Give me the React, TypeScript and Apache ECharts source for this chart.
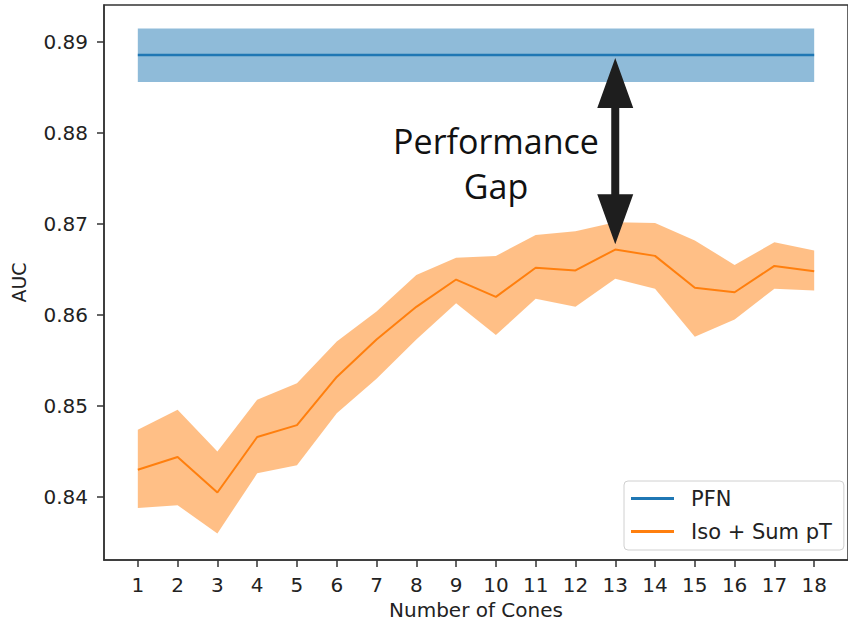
import React, { useEffect, useRef } from "react";
import * as echarts from "echarts";

const cones = [1, 2, 3, 4, 5, 6, 7, 8, 9, 10, 11, 12, 13, 14, 15, 16, 17, 18];
const isoMean = [0.843, 0.8444, 0.8405, 0.8466, 0.8479, 0.8532, 0.8573, 0.8609, 0.8639, 0.862, 0.8652, 0.8649, 0.8672, 0.8665, 0.863, 0.8625, 0.8654, 0.8648];
const isoUpper = [0.8474, 0.8496, 0.845, 0.8507, 0.8525, 0.8571, 0.8604, 0.8644, 0.8663, 0.8665, 0.8688, 0.8692, 0.8702, 0.8701, 0.8682, 0.8655, 0.868, 0.8671];
const isoLower = [0.8388, 0.8391, 0.836, 0.8426, 0.8435, 0.8492, 0.853, 0.8573, 0.8613, 0.8578, 0.8618, 0.8609, 0.864, 0.8629, 0.8576, 0.8595, 0.8629, 0.8627];
const pfnMean = 0.88857;
const pfnUpper = 0.8915;
const pfnLower = 0.8856;
const yTicks = [0.84, 0.85, 0.86, 0.87, 0.88, 0.89];
const gapX = 13;
const gapTop = 0.88824;
const gapBottom = 0.86777;

const BLUE = "#1f77b4";
const ORANGE = "#ff7f0e";
const TXT = "#222";
const FONT = "DejaVu Sans";

function bandSeries(name: string, upper: number[], lower: number[], fill: string, z: number) {
  return {
    name,
    type: "custom",
    z,
    silent: true,
    data: [[cones[0], lower[0]]],
    renderItem: (params: any, api: any) => {
      const pts: number[][] = [];
      for (let i = 0; i < cones.length; i++) pts.push(api.coord([cones[i], upper[i]]));
      for (let i = cones.length - 1; i >= 0; i--) pts.push(api.coord([cones[i], lower[i]]));
      return { type: "polygon", shape: { points: pts }, style: { fill } };
    },
  };
}

export default function App() {
  const ref = useRef<HTMLDivElement>(null);
  useEffect(() => {
    if (!ref.current) return;
    const chart = echarts.init(ref.current, null, { renderer: "svg" });
    const pfnArr = cones.map(() => pfnMean);
    const pfnUp = cones.map(() => pfnUpper);
    const pfnLo = cones.map(() => pfnLower);
    chart.setOption({
      animation: false,
      backgroundColor: "#fff",
      grid: {
        left: 104,
        top: 5,
        width: 744,
        height: 555,
        show: true,
        borderColor: "#333",
        borderWidth: 1.5,
        backgroundColor: "transparent",
        outerBoundsMode: "none",
        containLabel: false,
      },
      xAxis: {
        type: "value",
        min: 0.15,
        max: 18.85,
        name: "Number of Cones",
        nameLocation: "middle",
        nameGap: 39,
        nameTextStyle: { fontFamily: FONT, fontSize: 20, color: TXT },
        axisLine: { show: true, lineStyle: { color: "#333", width: 1.5 } },
        axisTick: { show: true, length: 7, lineStyle: { color: "#333", width: 1.5 }, customValues: cones },
        axisLabel: { customValues: cones, fontFamily: FONT, fontSize: 20, color: TXT, margin: 15 },
        splitLine: { show: false },
      },
      yAxis: {
        type: "value",
        min: 0.83308,
        max: 0.89407,
        name: "AUC",
        nameLocation: "middle",
        nameGap: 76,
        nameTextStyle: { fontFamily: FONT, fontSize: 19, color: TXT },
        axisLine: { show: true, lineStyle: { color: "#333", width: 1.5 } },
        axisTick: { show: true, length: 7, lineStyle: { color: "#333", width: 1.5 }, customValues: yTicks },
        axisLabel: {
          customValues: yTicks,
          fontFamily: FONT,
          fontSize: 20,
          color: TXT,
          margin: 16,
          formatter: (v: number) => v.toFixed(2),
        },
        splitLine: { show: false },
      },
      legend: {
        data: [
          { name: "PFN", icon: "rect" },
          { name: "Iso + Sum pT", icon: "rect" },
        ],
        orient: "vertical",
        left: 624,
        top: 481,
        itemWidth: 43,
        itemHeight: 3,
        itemGap: 12,
        padding: [7, 12, 8, 7],
        backgroundColor: "rgba(255,255,255,0.85)",
        borderColor: "#d0d0d0",
        borderWidth: 1,
        borderRadius: 4,
        textStyle: { fontFamily: FONT, fontSize: 21, color: TXT, padding: [0, 0, 0, 12] },
      },
      series: [
        bandSeries("PFN band", pfnUp, pfnLo, "rgba(31,119,180,0.5)", 1),
        {
          name: "PFN",
          type: "line",
          z: 2,
          data: cones.map((c, i) => [c, pfnArr[i]]),
          showSymbol: false,
          symbol: "none",
          lineStyle: { color: BLUE, width: 2.5 },
          itemStyle: { color: BLUE },
        },
        bandSeries("Iso band", isoUpper, isoLower, "rgba(255,127,14,0.5)", 3),
        {
          name: "Iso + Sum pT",
          type: "line",
          z: 4,
          data: cones.map((c, i) => [c, isoMean[i]]),
          showSymbol: false,
          symbol: "none",
          lineStyle: { color: ORANGE, width: 2 },
          itemStyle: { color: ORANGE },
        },
        {
          name: "gap",
          type: "custom",
          z: 5,
          silent: true,
          data: [[gapX, gapTop, gapBottom]],
          renderItem: (params: any, api: any) => {
            const t = api.coord([api.value(0), api.value(1)]);
            const b = api.coord([api.value(0), api.value(2)]);
            const x = t[0];
            const hw = 18, hl = 50, sw = 4;
            const ty = t[1], by = b[1];
            return {
              type: "polygon",
              shape: {
                points: [
                  [x, ty], [x + hw, ty + hl], [x + sw, ty + hl], [x + sw, by - hl], [x + hw, by - hl],
                  [x, by], [x - hw, by - hl], [x - sw, by - hl], [x - sw, ty + hl], [x - hw, ty + hl],
                ],
              },
              style: { fill: "#1e1e1e" },
            };
          },
        },
      ],
      graphic: [
        {
          type: "text",
          z: 10,
          x: 496,
          y: 163,
          style: {
            text: "Performance\nGap",
            fontFamily: "Open Sans",
            fontSize: 34,
            lineHeight: 45,
            fill: "#111",
            align: "center",
            verticalAlign: "middle",
          },
        },
      ],
    });
    return () => chart.dispose();
  }, []);
  return (
    <div
      ref={ref}
      style={{ position: "fixed", left: 0, top: 0, width: 848, height: 622, background: "#fff" }}
    />
  );
}
